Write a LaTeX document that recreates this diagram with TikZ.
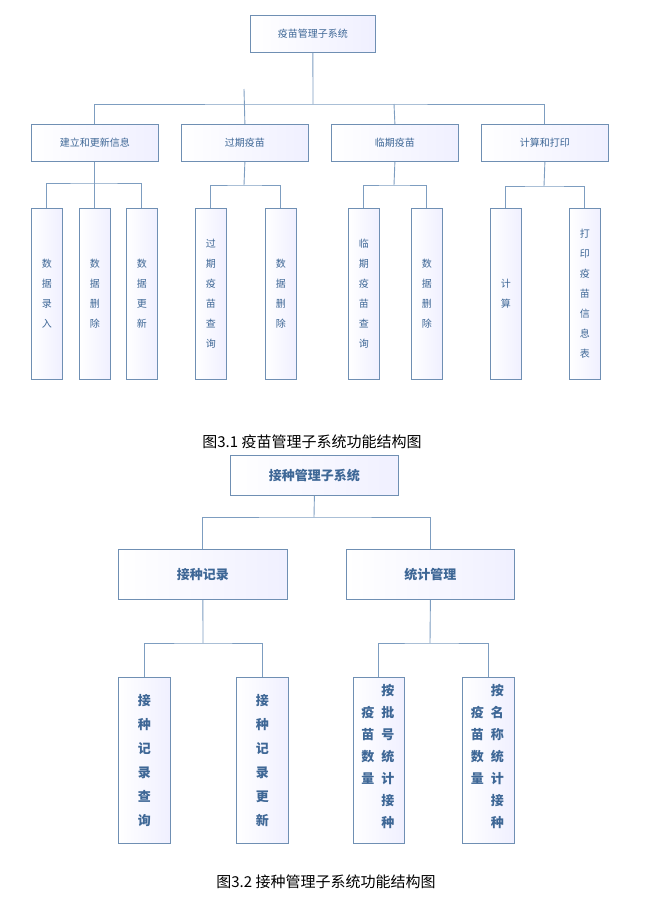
\documentclass[tikz,border=0pt]{standalone}
\usepackage{fontspec}
\setmainfont{Noto Sans CJK SC}
\newfontfamily\capfont{Noto Sans CJK SC}
\definecolor{boxline}{HTML}{6F8FB3}
\definecolor{boxtext}{HTML}{3E6796}
\definecolor{linkline}{HTML}{7D9DC0}
\tikzset{
  fbox/.style={draw=boxline, line width=0.8pt, left color=white, right color=blue!6!white,
    text=boxtext, inner sep=0pt, anchor=north west, align=center},
  vbox/.style={fbox, font=\fontsize{10}{20}\selectfont},
  hbox/.style={fbox, font=\fontsize{10}{12}\selectfont},
  bigbox/.style={fbox, font=\bfseries\fontsize{13}{24}\selectfont},
  link/.style={draw=linkline, line width=0.9pt}
}
\begin{document}
\begin{tikzpicture}[x=1pt, y=-1pt]
  \useasboundingbox (0,0) rectangle (645,911);
  % upper chart
  \node (root) [hbox, minimum width=125pt, minimum height=37pt] at (250,15) {疫苗管理子系统};
  \node (jl) [hbox, minimum width=127pt, minimum height=37pt] at (31,124) {建立和更新信息};
  \node (gq) [hbox, minimum width=127pt, minimum height=37pt] at (181,124) {过期疫苗};
  \node (lq) [hbox, minimum width=127pt, minimum height=37pt] at (331,124) {临期疫苗};
  \node (js) [hbox, minimum width=127pt, minimum height=37pt] at (481,124) {计算和打印};
  \foreach \n/\x/\t in {a1/31/数\\据\\录\\入, a2/79/数\\据\\删\\除, a3/126/数\\据\\更\\新,
      b1/195/过\\期\\疫\\苗\\查\\询, b2/265/数\\据\\删\\除,
      c1/348/临\\期\\疫\\苗\\查\\询, c2/411/数\\据\\删\\除,
      d1/490/计\\算, d2/569/打\\印\\疫\\苗\\信\\息\\表}
    \node (\n) [vbox, minimum width=31pt, minimum height=171pt] at (\x,208) {\t};
  \draw [link] (root.south) -- (313,104);
  \draw [link] (jl.north) |- (313,104) -| (js.north);
  \draw [link] (gq.north) -- (244,89);
  \draw [link] (lq.north) -- (394,104);
  \draw [link] (jl.south) -- (a2.north);
  \draw [link] (a1.north) |- (94,183) -| (a3.north);
  \draw [link] (gq.south) -- (244,185);
  \draw [link] (b1.north) |- (244,185) -| (b2.north);
  \draw [link] (lq.south) -- (394,185);
  \draw [link] (c1.north) |- (394,185) -| (c2.north);
  \draw [link] (js.south) -- (544,186);
  \draw [link] (d1.north) |- (544,186) -| (d2.north);
  \node (cap1) [font=\capfont\fontsize{15}{17}\selectfont] at (312,442) {图3.1 疫苗管理子系统功能结构图};
  % lower chart
  \node (root2) [bigbox, minimum width=168pt, minimum height=40pt] at (230,455) {接种管理子系统};
  \node (jz) [bigbox, minimum width=169pt, minimum height=50pt] at (118,549) {接种记录};
  \node (tj) [bigbox, minimum width=168pt, minimum height=50pt] at (346,549) {统计管理};
  \foreach \n/\x/\t in {e1/118/接\\种\\记\\录\\查\\询, e2/236/接\\种\\记\\录\\更\\新}
    \node (\n) [bigbox, minimum width=52pt, minimum height=166pt] at (\x,677) {\t};
  \node (f1) [bigbox, minimum width=51pt, minimum height=166pt] at (353,677) {};
  \node (f2) [bigbox, minimum width=52pt, minimum height=166pt] at (462,677) {};
  \foreach \n/\a/\b in {f1/按\\批\\号\\统\\计\\接\\种/疫\\苗\\数\\量, f2/按\\名\\称\\统\\计\\接\\种/疫\\苗\\数\\量} {
    \node [text=boxtext, font=\bfseries\fontsize{13}{22}\selectfont, align=center, anchor=north]
      at ([xshift=9pt,yshift=-4pt]\n.north) {\a};
    \node [text=boxtext, font=\bfseries\fontsize{13}{22}\selectfont, align=center, anchor=north]
      at ([xshift=-11pt,yshift=-26pt]\n.north) {\b};
  }
  \draw [link] (root2.south) -- (314,517);
  \draw [link] (jz.north) |- (314,517) -| (tj.north);
  \draw [link] (jz.south) -- (203,643);
  \draw [link] (e1.north) |- (203,643) -| (e2.north);
  \draw [link] (tj.south) -- (430,643);
  \draw [link] (f1.north) |- (430,643) -| (f2.north);
  \node (cap2) [font=\capfont\fontsize{15}{17}\selectfont] at (326,882) {图3.2 接种管理子系统功能结构图};
\end{tikzpicture}
\end{document}
